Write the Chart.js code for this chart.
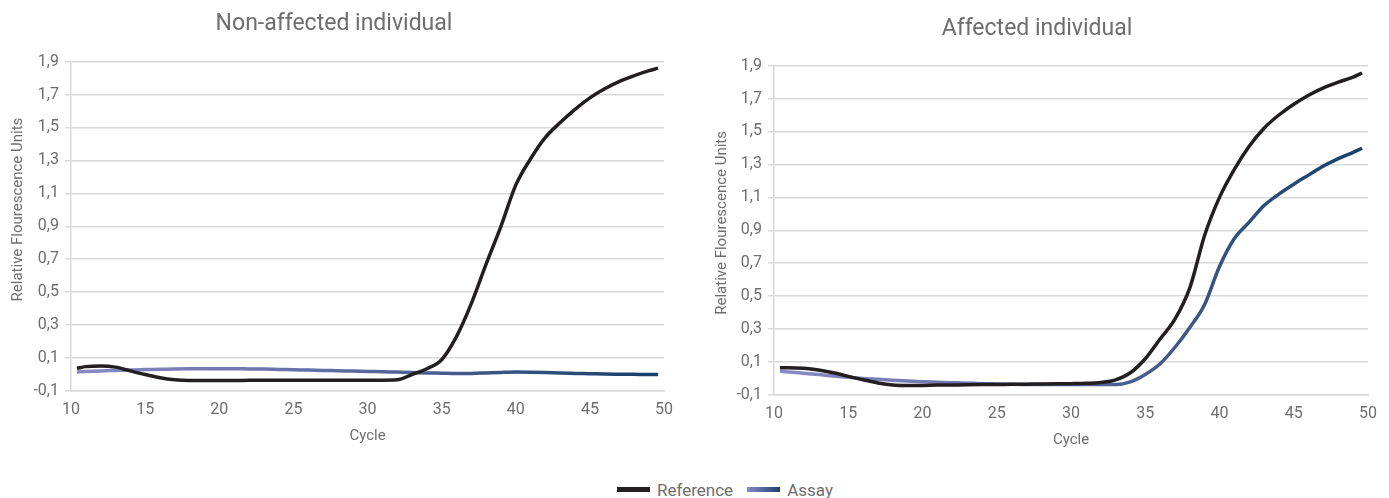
<!DOCTYPE html>
<html>
<head>
<meta charset="utf-8">
<script src="https://cdn.jsdelivr.net/npm/chart.js@4.4.1/dist/chart.umd.min.js"></script>
<style>
  body { margin: 0; background: #fff; font-family: Roboto, sans-serif; }
  #wrap { position: relative; width: 1389px; height: 498px; overflow: hidden; }
  #box1 { position: absolute; left: 0; top: 0; width: 682px; height: 453px; }
  #box2 { position: absolute; left: 706px; top: 0; width: 683px; height: 457px; }
  #legend { position: absolute; left: 617px; top: 478px; white-space: nowrap;
            font-size: 17px; color: #6e6e6e; }
  #legend span { display: inline-block; vertical-align: middle; }
  .sw { width: 33px; height: 5px; margin: 0 7px 0 0; }
  .lbl { margin-right: 14px; }
</style>
</head>
<body>
<div id="wrap">
  <div id="box1"><canvas id="c1"></canvas></div>
  <div id="box2"><canvas id="c2"></canvas></div>
  <div id="legend">
    <span class="sw" style="background:#231f20"></span><span class="lbl">Reference</span><span class="sw" style="background:linear-gradient(to right,#8a8ac6,#1f3f6e)"></span><span>Assay</span>
  </div>
</div>
<script>
// cycle positions (x) shared by all curves
let cycles = [10.4, 11, 12, 13, 14, 15, 16, 17, 18, 19, 20, 21, 22, 23, 24, 25, 26, 27, 28, 29, 30,
              31, 32, 33, 34, 35, 36, 37, 38, 39, 40, 41, 42, 43, 44, 45, 46, 47, 48, 49, 49.6]

// Non-affected individual
let nonRef = [0.038, 0.048, 0.052, 0.045, 0.022, 0.0, -0.02, -0.032, -0.036, -0.036, -0.036,
              -0.036, -0.035, -0.035, -0.035, -0.035, -0.035, -0.034, -0.034, -0.034, -0.034,
              -0.034, -0.032, 0.0, 0.035, 0.09, 0.23, 0.43, 0.67, 0.9, 1.15,
              1.31, 1.44, 1.53, 1.61, 1.68, 1.735, 1.78, 1.815, 1.845, 1.86]
let nonAssay = [0.016, 0.018, 0.022, 0.025, 0.028, 0.03, 0.032, 0.034, 0.035, 0.035, 0.035,
                0.035, 0.034, 0.033, 0.031, 0.029, 0.027, 0.025, 0.023, 0.021, 0.019,
                0.017, 0.015, 0.013, 0.01, 0.008, 0.006, 0.007, 0.01, 0.013, 0.015,
                0.014, 0.012, 0.009, 0.007, 0.005, 0.003, 0.002, 0.001, 0.0, 0.0]

// Affected individual
let affRef = [0.065, 0.066, 0.062, 0.052, 0.035, 0.013, -0.007, -0.027, -0.04, -0.043, -0.042,
              -0.04, -0.039, -0.038, -0.037, -0.036, -0.035, -0.034, -0.033, -0.032, -0.031,
              -0.029, -0.024, -0.008, 0.035, 0.12, 0.24, 0.36, 0.55, 0.87, 1.1,
              1.27, 1.41, 1.52, 1.6, 1.665, 1.72, 1.765, 1.8, 1.83, 1.855]
let affAssay = [0.045, 0.04, 0.032, 0.024, 0.015, 0.008, 0.0, -0.005, -0.01, -0.015, -0.019,
                -0.022, -0.025, -0.028, -0.031, -0.033, -0.035, -0.036, -0.036, -0.036, -0.036,
                -0.036, -0.036, -0.036, -0.02, 0.025, 0.09, 0.19, 0.31, 0.45, 0.68,
                0.85, 0.95, 1.05, 1.12, 1.18, 1.235, 1.29, 1.335, 1.373, 1.398]

let yTicks = [-0.1, 0.1, 0.3, 0.5, 0.7, 0.9, 1.1, 1.3, 1.5, 1.7, 1.9]
let xTicks = [10, 15, 20, 25, 30, 35, 40, 45, 50]

const grey = '#6e6e6e'
const gridc = '#d9d9d9'

function pts(ys) {
    return ys.map((y, i) => ({ x: cycles[i], y: y }))
}

function assayGradient(ctx) {
    const ca = ctx.chart.chartArea
    if (!ca) return '#4a5a90'
    const g = ctx.chart.ctx.createLinearGradient(ca.left, 0, ca.right, 0)
    g.addColorStop(0, '#8a8ac6')
    g.addColorStop(0.4, '#6470a8')
    g.addColorStop(0.7, '#3c5685')
    g.addColorStop(1, '#144068')
    return g
}

function makeChart(id, title, refData, assayData, o) {
    return new Chart(document.getElementById(id), {
        type: 'line',
        data: {
            datasets: [{
                label: 'Reference',
                data: pts(refData),
                borderColor: '#231f20',
                borderWidth: 3.5,
                pointRadius: 0,
                cubicInterpolationMode: 'monotone',
                fill: false
            }, {
                label: 'Assay',
                data: pts(assayData),
                borderColor: assayGradient,
                borderWidth: 3.5,
                pointRadius: 0,
                cubicInterpolationMode: 'monotone',
                fill: false
            }]
        },
        options: {
            responsive: true,
            maintainAspectRatio: false,
            animation: false,
            layout: { padding: { left: 0, right: o.right, top: 0, bottom: 0 } },
            plugins: {
                legend: { display: false },
                tooltip: { enabled: false },
                title: {
                    display: true,
                    text: title,
                    color: grey,
                    font: { family: 'Roboto', size: 23, weight: 'normal' },
                    padding: { top: o.titleTop, bottom: o.titleBottom }
                }
            },
            scales: {
                x: {
                    type: 'linear',
                    min: 10, max: 50,
                    afterBuildTicks: s => { s.ticks = xTicks.map(v => ({ value: v })) },
                    afterFit: s => { s.height = 62 },
                    grid: { display: false, drawTicks: false },
                    border: { display: true, color: gridc, width: 1.5 },
                    ticks: { color: grey, font: { family: 'Roboto', size: 16 }, padding: 9, maxRotation: 0 },
                    title: { display: true, text: 'Cycle', color: grey,
                             font: { family: 'Roboto', size: 15 }, padding: { top: 4, bottom: 8 } }
                },
                y: {
                    min: -0.1, max: 1.9,
                    afterBuildTicks: s => { s.ticks = yTicks.map(v => ({ value: v })) },
                    afterFit: s => { s.width = o.yWidth },
                    grid: { color: gridc, lineWidth: 1.5, tickLength: 6, tickColor: gridc },
                    border: { display: true, color: gridc, width: 1.5 },
                    ticks: {
                        color: grey,
                        font: { family: 'Roboto', size: 16 },
                        padding: 6,
                        callback: v => v.toFixed(1).replace('.', ',')
                    },
                    title: { display: true, text: o.yTitle, color: grey,
                             font: { family: 'Roboto', size: 15 }, padding: { top: o.yTitlePad, bottom: 0 } }
                }
            }
        }
    })
}

// leading no-break spaces nudge the rotated axis title upward, as in the original
makeChart('c1', 'Non-affected individual', nonRef, nonAssay,
          { right: 14, titleTop: 10, titleBottom: 24, yWidth: 71, yTitlePad: 9,
            yTitle: '\u00a0'.repeat(9) + 'Relative Flourescence Units' })
makeChart('c2', 'Affected individual', affRef, affAssay,
          { right: 21, titleTop: 15, titleBottom: 23, yWidth: 68, yTitlePad: 7,
            yTitle: '\u00a0'.repeat(4) + 'Relative Flourescence Units' })
</script>
</body>
</html>
